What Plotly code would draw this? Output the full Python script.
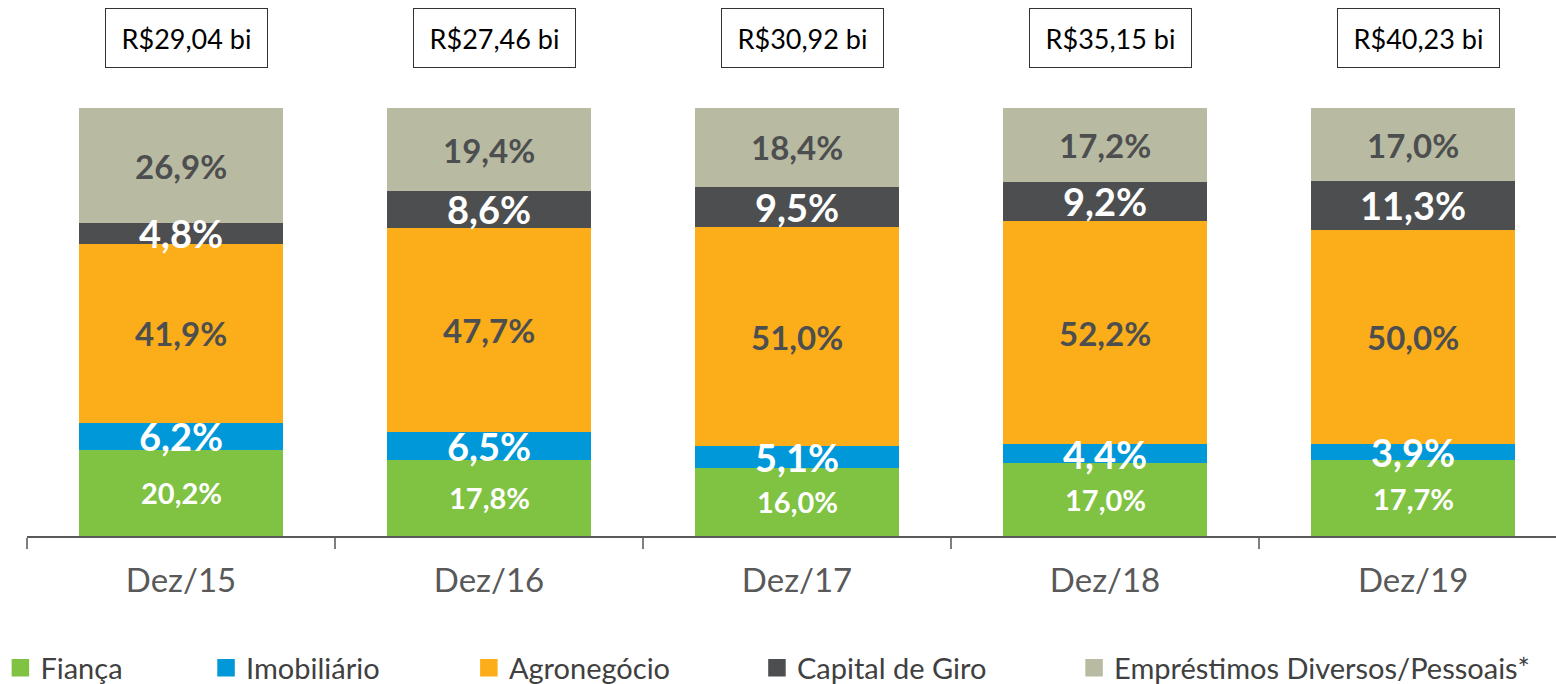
import plotly.graph_objects as go

categories = ["Dez/15", "Dez/16", "Dez/17", "Dez/18", "Dez/19"]
series_names = ["Fiança", "Imobiliário", "Agronegócio", "Capital de Giro", "Empréstimos Diversos/Pessoais*"]
fianca = [20.2, 17.8, 16.0, 17.0, 17.7]
imobiliario = [6.2, 6.5, 5.1, 4.4, 3.9]
agronegocio = [41.9, 47.7, 51.0, 52.2, 50.0]
capital_giro = [4.8, 8.6, 9.5, 9.2, 11.3]
emprestimos = [26.9, 19.4, 18.4, 17.2, 17.0]
totals_bi = [29.04, 27.46, 30.92, 35.15, 40.23]

series_values = [fianca, imobiliario, agronegocio, capital_giro, emprestimos]
colors = ["#80C242", "#0098D8", "#FBAE19", "#4D4E50", "#B8BBA1"]
label_colors = ["white", "white", "#4D4E50", "white", "#4D4E50"]
label_sizes = [29, 38, 33, 38, 33]
FONT = "Lato"


def fmt_pct(v):
    return f"{v:.1f}".replace(".", ",") + "%"


fig = go.Figure()

# stacked bars
for name, vals, col in zip(series_names, series_values, colors):
    fig.add_trace(go.Bar(
        x=categories, y=vals, name=name, marker=dict(color=col, line=dict(width=0)),
        showlegend=False, hoverinfo="x+y+name",
    ))

# data labels (annotations so they sit above all bars)
base = [0.0] * len(categories)
for vals, lc, ls in zip(series_values, label_colors, label_sizes):
    for cat, b, v in zip(categories, base, vals):
        fig.add_annotation(
            x=cat, y=b + v / 2, xref="x", yref="y", text=fmt_pct(v), showarrow=False,
            font=dict(family=FONT, size=ls, color=lc, weight="bold"),
            yanchor="middle",
        )
    base = [b + v for b, v in zip(base, vals)]

# legend entries, each in its own legend for positioning
legend_x = [-0.0174, 0.1171, 0.2890, 0.4774, 0.6848]
for i, (name, col) in enumerate(zip(series_names, colors)):
    lname = "legend" if i == 0 else f"legend{i+1}"
    fig.add_trace(go.Scatter(
        x=[None], y=[None], mode="markers", name=name,
        marker=dict(symbol="square", size=16, color=col, line=dict(color=col, width=1.5)),
        legend=lname, showlegend=True,
    ))

legend_layouts = {}
for i, lx in enumerate(legend_x):
    lname = "legend" if i == 0 else f"legend{i+1}"
    legend_layouts[lname] = dict(
        x=lx, y=-0.308, xanchor="left", yanchor="middle", orientation="h",
        font=dict(family=FONT, size=29, color="#404040"), bgcolor="rgba(0,0,0,0)",
        borderwidth=0, itemwidth=30,
    )

# total boxes
for cat, t in zip(categories, totals_bi):
    fig.add_annotation(
        x=cat, xref="x", y=1.163, yref="paper", yanchor="middle",
        text="R$" + f"{t:.2f}".replace(".", ",") + " bi", showarrow=False,
        font=dict(family=FONT, size=27, color="black"),
        bordercolor="#333333", borderwidth=1, bgcolor="white",
        width=155, height=52, borderpad=3, xshift=5,
    )

fig.update_layout(
    barmode="stack", bargap=0.338,
    width=1556, height=684,
    margin=dict(l=27, r=0, t=108, b=148, autoexpand=False),
    plot_bgcolor="white", paper_bgcolor="white",
    font=dict(family=FONT),
    **legend_layouts,
)
fig.update_xaxes(
    type="category", range=[-0.5, 4.464], showgrid=False, zeroline=False,
    showline=True, linecolor="#595959", linewidth=1.5,
    ticks="outside", tickson="boundaries", ticklen=11, tickcolor="#7F7F7F", tickwidth=1.5,
    tickfont=dict(family=FONT, size=33, color="#595959"), ticklabelstandoff=15,
)
fig.update_yaxes(range=[0, 100], visible=False, showgrid=False, zeroline=False)

fig.write_html(
    "out.html",
    config={"displayModeBar": False},
    post_script="document.body.style.margin='0';document.body.style.overflow='hidden';",
)
